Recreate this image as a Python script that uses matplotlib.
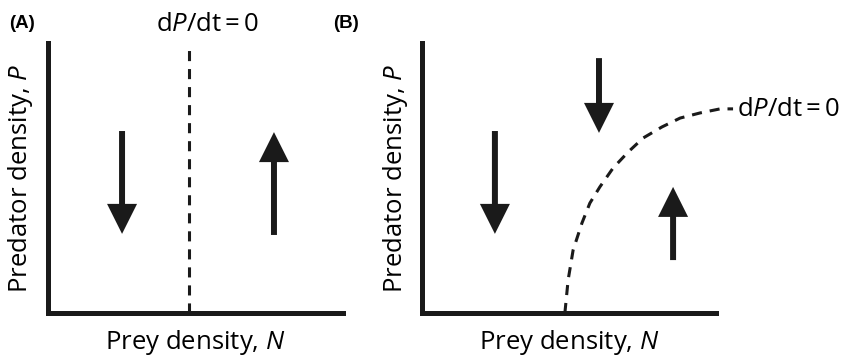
import matplotlib
matplotlib.use('Agg')
import matplotlib.pyplot as plt

# Panel A: vertical predator nullcline and the two flow arrows
nullcline_a_x = 4.78
nullcline_a_top = 9.8
arrows_a_x = [2.51, 7.66]
arrows_a_start = [6.74, 2.89]
arrows_a_end = [2.93, 6.70]

# Panel B: curved predator nullcline and three arrows
curve_b_n = [4.86, 4.97, 5.14, 5.44, 5.71, 6.05, 6.50, 7.01, 7.52, 8.16,
             8.78, 9.46, 10.14, 10.58]
curve_b_p = [0.00, 1.22, 2.33, 3.33, 4.07, 4.67, 5.37, 5.96, 6.48, 6.89,
             7.22, 7.41, 7.56, 7.56]
arrows_b_x = [2.48, 6.02, 8.54]
arrows_b_start = [6.74, 9.44, 1.96]
arrows_b_end = [2.93, 6.67, 4.67]

xlabel = 'Prey density, $N$'
ylabel = 'Predator density, $P$'
null_label = 'd$P$/dt\u2009=\u20090'

plt.rcParams['font.family'] = ['Open Sans', 'DejaVu Sans']
plt.rcParams['mathtext.fontset'] = 'custom'
plt.rcParams['mathtext.rm'] = 'Open Sans'
plt.rcParams['mathtext.it'] = 'Open Sans:italic'

ink = '#1a1a1a'
arrow_style = 'simple,head_length=2.16,head_width=2.16,tail_width=0.43'
fs = 18.5


def draw_arrows(ax, xs, starts, ends):
    for x, y0, y1 in zip(xs, starts, ends):
        ax.annotate('', xy=(x, y1), xytext=(x, y0),
                    arrowprops=dict(arrowstyle=arrow_style, color=ink, lw=0,
                                    shrinkA=0, shrinkB=0, mutation_scale=10))


def style_axes(ax):
    ax.set_xlim(0, 10)
    ax.set_ylim(0, 10)
    ax.set_xticks([])
    ax.set_yticks([])
    for side in ['top', 'right']:
        ax.spines[side].set_visible(False)
    for side in ['left', 'bottom']:
        ax.spines[side].set_linewidth(3.6)
        ax.spines[side].set_color(ink)
        ax.spines[side].set_capstyle('projecting')
    ax.set_xlabel(xlabel, fontsize=fs, labelpad=11)
    ax.set_ylabel(ylabel, fontsize=fs, labelpad=9)
    ax.patch.set_alpha(0)


fig = plt.figure(figsize=(8.44, 3.56), dpi=100)
ax_a = fig.add_axes([48 / 844, 43 / 356, 295 / 844, 270 / 356])
ax_b = fig.add_axes([422 / 844, 43 / 356, 294 / 844, 270 / 356])

# (A)
style_axes(ax_a)
ax_a.plot([nullcline_a_x, nullcline_a_x], [0, nullcline_a_top], color=ink,
          lw=2.2, dashes=(3.3, 2.6))
draw_arrows(ax_a, arrows_a_x, arrows_a_start, arrows_a_end)
ax_a.text(5.4, 10.7, null_label, fontsize=fs, ha='center', va='center')

# (B)
style_axes(ax_b)
ax_b.plot(curve_b_n, curve_b_p, color=ink, lw=2.2, dashes=(3.3, 2.6),
          clip_on=False)
draw_arrows(ax_b, arrows_b_x, arrows_b_start, arrows_b_end)
ax_b.text(10.71, 7.52, null_label, fontsize=fs, ha='left', va='center')

fig.text(9 / 844, 1 - 24 / 356, '(A)', fontsize=13.5, fontweight='bold',
         family='Liberation Sans', va='center', ha='left')
fig.text(333 / 844, 1 - 24 / 356, '(B)', fontsize=13.5, fontweight='bold',
         family='Liberation Sans', va='center', ha='left')

fig.savefig('out.png', dpi=100)
